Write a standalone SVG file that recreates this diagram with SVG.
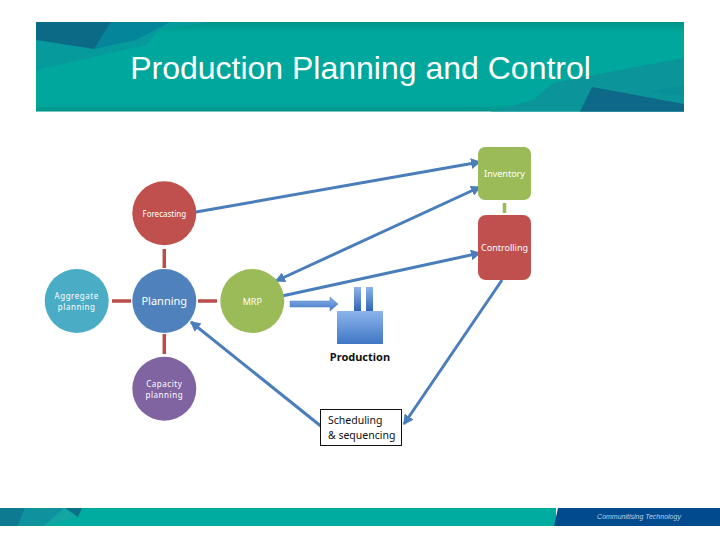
<svg xmlns="http://www.w3.org/2000/svg" width="720" height="540" viewBox="0 0 720 540">
<defs>
<linearGradient id="ban" x1="0" y1="0" x2="0" y2="1"><stop offset="0" stop-color="#009388"/><stop offset="0.12" stop-color="#00a79c"/><stop offset="0.92" stop-color="#00a79c"/><stop offset="1" stop-color="#009388"/></linearGradient>
<linearGradient id="fac" x1="0" y1="0" x2="0" y2="1"><stop offset="0" stop-color="#8db4ec"/><stop offset="1" stop-color="#3f77c4"/></linearGradient>
<linearGradient id="chim" x1="0" y1="0" x2="0" y2="1"><stop offset="0" stop-color="#8db4ec"/><stop offset="1" stop-color="#2f66b3"/></linearGradient>
<marker id="ah" markerWidth="3.600" markerHeight="3.600" refX="3" refY="1.800" orient="auto-start-reverse" markerUnits="strokeWidth"><path d="M0,0 L3.400,1.800 L0,3.600 z" fill="#4a7ebb"/></marker>
</defs>
<style>
.t{font-family:"Noto Sans","DejaVu Sans",sans-serif;fill:#fff;text-anchor:middle}
.s{font-size:8px;letter-spacing:0.55px}
.k{font-family:"Noto Sans","DejaVu Sans",sans-serif;fill:#111;text-anchor:middle}
.c{fill:none;stroke:#4a7ebb;stroke-width:3}
.r{stroke:#b94d4a;stroke-width:3.500;fill:none}
</style>
<rect width="720" height="540" fill="#fff"/>
<g id="banner">
<rect x="36" y="22" width="648" height="89.500" fill="url(#ban)"/>
<path d="M36,22H209L159,30L146,45L89,58L36,70Z" fill="#069a9c"/>
<path d="M111,22H170L136,40L94,49Z" fill="#04859a"/>
<path d="M36,22H111L94,49L56,43L36,40Z" fill="#0b6a86"/>
<path d="M684,58L593,75L553,83L533,100L490,111.500H684Z" fill="#0b9499"/>
<path d="M592,87L684,104V111.500H580Z" fill="#0e6888"/>
<path d="M650,92L684,86V95Z" fill="#0a8e9a"/>
<text x="360.500" y="79" font-family="Liberation Sans, Arial, sans-serif" font-size="32" fill="#fff" text-anchor="middle">Production Planning and Control</text>
</g>
<g id="footer">
<rect x="0" y="508" width="556" height="18" fill="#00aca0"/>
<path d="M0,508H25L18,526H0Z" fill="#0e7a92"/>
<path d="M25,508H64L44,526H18Z" fill="#0f919e"/>
<path d="M64,508H68L78,517L44,526Z" fill="#12a5a2"/>
<path d="M65,508H82L78,517Z" fill="#0c7088"/>
<path d="M558,508H720V526H554Z" fill="#004a8d"/>
<text x="639" y="519" font-family="Liberation Sans, Arial, sans-serif" font-style="italic" font-size="7" fill="#bcd4ee" text-anchor="middle">Communitising Technology</text>
</g>
<g id="links">
<path class="r" d="M164.300,249V268M164.300,334V354M112,301H131M198,301H217"/>
<path d="M504.500,203V213" stroke="#9bbb59" stroke-width="3.500" fill="none"/>
</g>
<g id="connectors">
<path class="c" d="M196,212L480,162" marker-end="url(#ah)"/>
<path class="c" d="M480,187L276,281" marker-start="url(#ah)" marker-end="url(#ah)"/>
<path class="c" d="M282,296L480,253" marker-end="url(#ah)"/>
<path class="c" d="M502,280L404,424" marker-end="url(#ah)"/>
<path class="c" d="M322,427L191,322" marker-end="url(#ah)"/>
</g>
<g id="forecasting"><circle cx="164.300" cy="213.300" r="32" fill="#c0504d"/><text class="t" x="164.300" y="216.500" font-size="8">Forecasting</text></g>
<g id="planning"><circle cx="164.300" cy="301" r="32" fill="#4f81bd"/><text class="t" x="164.300" y="305" font-size="11">Planning</text></g>
<g id="aggregate"><circle cx="76.700" cy="301" r="32" fill="#4bacc6"/><text class="t s"><tspan x="76.700" y="299">Aggregate</tspan><tspan x="76.700" y="310">planning</tspan></text></g>
<g id="mrp"><circle cx="252.300" cy="301" r="32" fill="#9bbb59"/><text class="t" x="252.300" y="305" font-size="9">MRP</text></g>
<g id="capacity"><circle cx="164.300" cy="388.700" r="32" fill="#8064a2"/><text class="t s"><tspan x="164.300" y="387">Capacity</tspan><tspan x="164.300" y="398">planning</tspan></text></g>
<g id="inventory"><rect x="478" y="147" width="53" height="53" rx="7" fill="#9bbb59"/><text class="t" x="504.500" y="177" font-size="9">Inventory</text></g>
<g id="controlling"><rect x="478" y="215" width="53" height="65" rx="8" fill="#c0504d"/><text class="t" x="504.500" y="251" font-size="9">Controlling</text></g>
<g id="production">
<path d="M290,301H330V297L338,304L330,311V307H290Z" fill="url(#fac)" stroke="#4a7ebb" stroke-width="0.500"/>
<rect x="354" y="287" width="7" height="24" fill="url(#chim)"/>
<rect x="366" y="287" width="7" height="24" fill="url(#chim)"/>
<rect x="337" y="311" width="46" height="33" fill="url(#fac)"/>
<text class="k" x="360" y="361" font-size="11" font-weight="700">Production</text>
</g>
<g id="scheduling"><rect x="320.500" y="409.500" width="81" height="36" fill="#fff" stroke="#111" stroke-width="1"/><text class="k" font-size="10.500" style="text-anchor:start"><tspan x="328" y="424">Scheduling</tspan><tspan x="328" y="439">&amp; sequencing</tspan></text></g>
</svg>
